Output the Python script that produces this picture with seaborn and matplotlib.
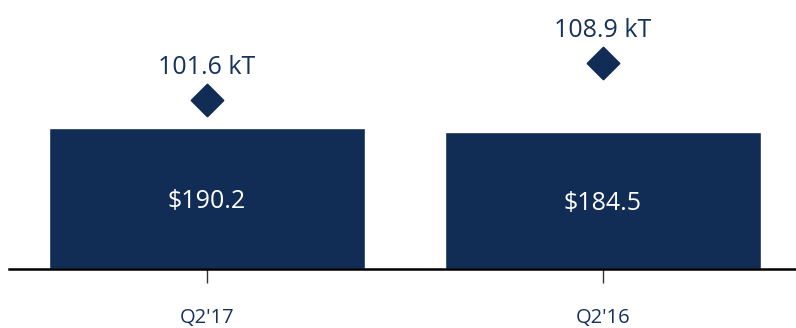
import pandas as pd
import seaborn as sns
import matplotlib.pyplot as plt

# Data
quarters = ["Q2'17", "Q2'16"]
revenue = [190.2, 184.5]          # bars, $
volume = [101.6, 108.9]           # diamonds, kT

navy = "#122d55"
text_navy = "#17325a"

df = pd.DataFrame({"quarter": quarters, "revenue": revenue, "volume": volume})

sns.set_style("white")
plt.rcParams['font.family'] = ['Open Sans', 'DejaVu Sans']

fig = plt.figure(figsize=(7.96, 3.28), dpi=100)
ax = fig.add_axes([9 / 796, 1 - 269 / 328, 792 / 796, 269 / 328])

sns.barplot(data=df, x="quarter", y="revenue", color=navy, saturation=1,
            width=0.8, ax=ax)
ax.set_xlim(-0.5, 1.5)
ax.set_ylim(0, 363)

for i, v in enumerate(revenue):
    ax.annotate(f"${v:.1f}", (i, v / 2), xytext=(0, -2), textcoords="offset points",
                ha="center", va="center", color="white", fontsize=18)

# Secondary axis for volume diamonds
ax2 = ax.twinx()
sns.scatterplot(data=df, x="quarter", y="volume", marker="D", s=260,
                color=navy, edgecolor=navy, linewidth=1.5, ax=ax2, zorder=5)
ax2.set_ylim(68.3, 121.3)
ax2.set_xlim(-0.5, 1.5)
for i, v in enumerate(volume):
    ax2.annotate(f"{v:.1f} kT", (i, v), xytext=(0, 19), textcoords="offset points",
                 ha="center", va="baseline", color=text_navy, fontsize=18)

for a in (ax, ax2):
    for side in ("top", "right", "left"):
        a.spines[side].set_visible(False)
    a.set_yticks([])
    a.set_ylabel("")
    a.set_xlabel("")
ax2.spines["bottom"].set_visible(False)
ax2.tick_params(axis="x", bottom=False, labelbottom=False)

ax.spines["bottom"].set_color("black")
ax.spines["bottom"].set_linewidth(1.8)
ax.tick_params(axis="x", direction="out", length=10, width=1, color="#333333",
               pad=18, labelsize=14.5, labelcolor=text_navy, bottom=True)

fig.savefig("out.png", dpi=100)
